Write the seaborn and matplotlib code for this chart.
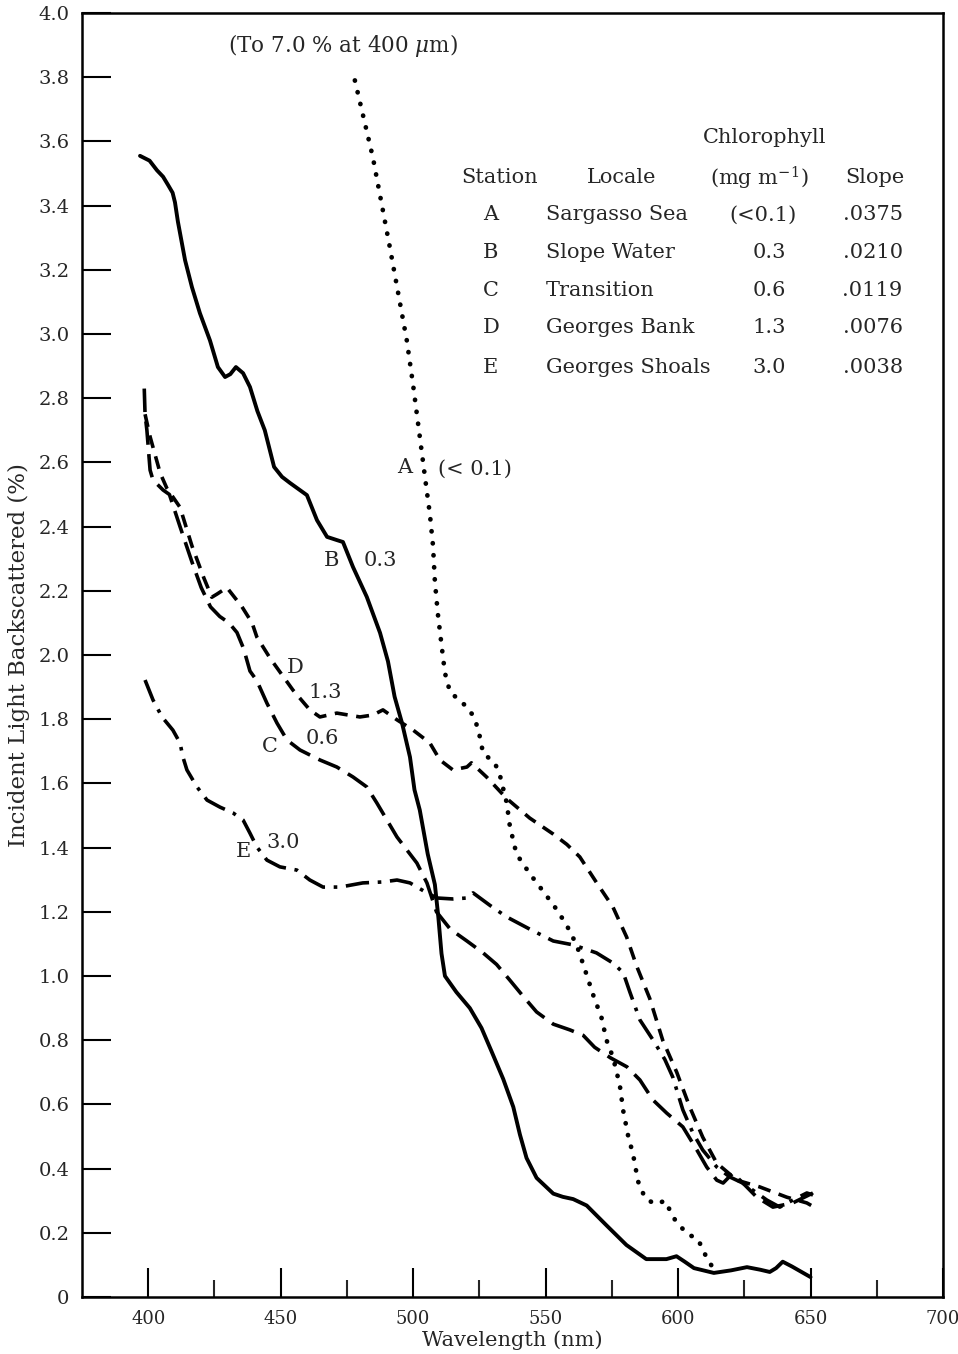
import matplotlib
matplotlib.use("Agg")
import matplotlib.pyplot as plt
import seaborn as sns
import pandas as pd

# Station A - Sargasso Sea (dotted)
wl_a = [478, 484.8, 491.2, 497.6, 500, 502.5, 505, 506.3, 507.5, 508.2, 509.3, 510.8, 512, 513.9,
        519.5, 522.7, 524.6, 526.4, 530.8, 532.7, 535.3, 536.5, 539, 544, 549.7, 554.1, 557.9,
        561.7, 564.2, 568, 571.1, 573, 575.5, 578, 579.3, 581.2, 583, 584.9, 587.5, 590.5, 592,
        595, 598.8, 603.2, 607.5, 610.7, 613.2]
bs_a = [3.79, 3.55, 3.27, 2.98, 2.84, 2.68, 2.52, 2.44, 2.34, 2.23, 2.13, 2.025, 1.944, 1.885,
        1.844, 1.811, 1.768, 1.694, 1.664, 1.627, 1.54, 1.467, 1.38, 1.319, 1.257, 1.208, 1.159,
        1.097, 1.036, 0.94, 0.87, 0.80, 0.745, 0.66, 0.58, 0.50, 0.445, 0.36, 0.309, 0.293, 0.29,
        0.30, 0.241, 0.198, 0.18, 0.124, 0.09]

# Station B - Slope Water (solid)
wl_b = [396.9, 400.5, 403.3, 405.6, 407.5, 409.2, 410.1, 411.2, 413.9, 416.5, 419.5, 423.3, 426.3,
        429, 431, 433.1, 435.8, 438.4, 441.2, 444, 447.5, 450.5, 453.5, 459.9, 463.7, 467.5, 471.2,
        473.5, 477.3, 482.5, 487.5, 490.5, 493, 495.8, 498.8, 500.5, 502.5, 505.5, 508.2, 509.5,
        510.7, 512, 516.3, 521.4, 525.8, 529.6, 534, 537.8, 540.3, 542.8, 546.6, 552.9, 556.5,
        560.4, 565.5, 573, 580.5, 588, 595.6, 599.4, 602.5, 606, 613.5, 620, 626, 631, 634.6, 637,
        639.5, 643, 650]
bs_b = [3.555, 3.54, 3.51, 3.49, 3.464, 3.44, 3.41, 3.35, 3.23, 3.146, 3.065, 2.98, 2.897,
        2.866, 2.875, 2.897, 2.878, 2.835, 2.76, 2.70, 2.586, 2.555, 2.536, 2.498, 2.42, 2.368,
        2.358, 2.352, 2.274, 2.181, 2.069, 1.98, 1.87, 1.788, 1.682, 1.58, 1.517, 1.38, 1.285,
        1.184, 1.07, 1.0, 0.95, 0.90, 0.838, 0.765, 0.679, 0.592, 0.506, 0.433, 0.371, 0.322,
        0.312, 0.305, 0.285, 0.223, 0.162, 0.118, 0.118, 0.127, 0.11, 0.09, 0.075, 0.083, 0.093,
        0.085, 0.078, 0.09, 0.11, 0.095, 0.062]

# Station C - Transition (long dashes)
wl_c = [398.5, 398.8, 399.5, 400.7, 401.8, 405.6, 408, 412, 416.5, 420, 423.5, 427, 430.5, 433.5,
        436, 438.4, 441, 444.8, 448.6, 452.4, 457.3, 464.8, 471.2, 477.3, 482.5, 486.3, 490.1,
        493.9, 497.6, 501.4, 505.2, 508.8, 514, 520.3, 526.4, 531.5, 536.5, 541.5, 546.6, 552.9,
        559.2, 564.2, 568.5, 574.5, 580.7, 585.6, 590.5, 595.7, 601.8, 607.1, 610.8, 614.6, 617,
        620.7, 625.9, 629.7, 635.8, 643.3, 650.9]
bs_c = [2.83, 2.75, 2.70, 2.576, 2.545, 2.514, 2.50, 2.40, 2.29, 2.21, 2.15, 2.12, 2.10, 2.07,
        2.02, 1.95, 1.92, 1.85, 1.788, 1.735, 1.704, 1.673, 1.651, 1.62, 1.589, 1.539, 1.486,
        1.433, 1.393, 1.352, 1.29, 1.20, 1.146, 1.109, 1.072, 1.036, 0.987, 0.937, 0.888, 0.85,
        0.832, 0.815, 0.778, 0.745, 0.717, 0.676, 0.614, 0.573, 0.53, 0.458, 0.405, 0.364, 0.355,
        0.386, 0.343, 0.311, 0.28, 0.293, 0.324]

# Station D - Georges Bank (short dashes)
wl_d = [398.8, 400.7, 404.5, 407, 412, 416.5, 421, 424, 426, 429.7, 433.5, 435.4, 439.2, 441,
        446, 448.6, 454.6, 461, 464.8, 471.2, 479.9, 484.8, 488.6, 493.9, 500, 506.3, 510.1, 515,
        520.3, 522, 527.7, 535.3, 544, 552.9, 558, 562.9, 569.3, 575.4, 580.6, 584.4, 589.3,
        594.2, 599.5, 604.4, 609.3, 614.6, 622.2, 630.8, 641, 648.6, 652]
bs_d = [2.75, 2.68, 2.567, 2.52, 2.46, 2.34, 2.24, 2.18, 2.19, 2.21, 2.17, 2.15, 2.10, 2.056,
        1.99, 1.96, 1.891, 1.829, 1.807, 1.819, 1.807, 1.813, 1.829, 1.798, 1.766, 1.726, 1.673,
        1.642, 1.651, 1.664, 1.62, 1.553, 1.492, 1.442, 1.41, 1.371, 1.29, 1.215, 1.121, 1.03,
        0.93, 0.80, 0.70, 0.592, 0.498, 0.417, 0.364, 0.343, 0.311, 0.293, 0.277]

# Station E - Georges Shoals (dash-dot)
wl_e = [398.8, 401.8, 405.2, 409.3, 412, 413.1, 414.6, 418.4, 422.2, 427.1, 432, 435.8, 438.4,
        441, 444.8, 449.7, 456.1, 461, 466, 472.4, 481, 488.6, 493.9, 498.8, 505.2, 509, 515,
        520.3, 522.6, 529, 535.3, 544, 552.9, 560.4, 569.2, 575.5, 579.3, 581.8, 585.6, 590.6,
        595, 598, 601.8, 605.6, 609.3, 614.6, 619.5, 624.4, 628.2, 633.5, 638.4, 643.3, 648.6,
        650.9]
bs_e = [1.922, 1.86, 1.807, 1.766, 1.726, 1.682, 1.642, 1.589, 1.548, 1.526, 1.508, 1.486, 1.445,
        1.402, 1.361, 1.34, 1.33, 1.299, 1.277, 1.277, 1.29, 1.293, 1.299, 1.29, 1.259, 1.243,
        1.24, 1.243, 1.259, 1.22, 1.184, 1.146, 1.109, 1.097, 1.072, 1.04, 1.01, 0.95, 0.863,
        0.80, 0.74, 0.685, 0.583, 0.511, 0.458, 0.405, 0.374, 0.355, 0.333, 0.302, 0.28, 0.302,
        0.324, 0.318]

# Table of stations
stations = ["A", "B", "C", "D", "E"]
locales = ["Sargasso Sea", "Slope Water", "Transition", "Georges Bank", "Georges Shoals"]
chlorophyll = ["(<0.1)", "0.3", "0.6", "1.3", "3.0"]
slopes = [".0375", ".0210", ".0119", ".0076", ".0038"]

# Curve labels: station letter and chlorophyll value
curve_letters = ["A", "B", "C", "D", "E"]
curve_values = ["(< 0.1)", "0.3", "0.6", "1.3", "3.0"]

x_ticks = [400, 450, 500, 550, 600, 650, 700]
x_minor = [425, 475, 525, 575, 625, 675]
y_ticks = [0, 0.2, 0.4, 0.6, 0.8, 1.0, 1.2, 1.4, 1.6, 1.8, 2.0, 2.2, 2.4, 2.6, 2.8,
           3.0, 3.2, 3.4, 3.6, 3.8, 4.0]
y_labels = ["0", "0.2", "0.4", "0.6", "0.8", "1.0", "1.2", "1.4", "1.6", "1.8", "2.0",
            "2.2", "2.4", "2.6", "2.8", "3.0", "3.2", "3.4", "3.6", "3.8", "4.0"]

sns.set_style("ticks")
plt.rcParams["font.family"] = ["DejaVu Serif"]
plt.rcParams["mathtext.fontset"] = "dejavuserif"

fig = plt.figure(figsize=(9.58, 13.54), dpi=100)
ax = fig.add_axes([82 / 958, 57 / 1354, 861 / 958, 1284 / 1354])

frames = {
    "A": pd.DataFrame({"wl": wl_a, "bs": bs_a}),
    "B": pd.DataFrame({"wl": wl_b, "bs": bs_b}),
    "C": pd.DataFrame({"wl": wl_c, "bs": bs_c}),
    "D": pd.DataFrame({"wl": wl_d, "bs": bs_d}),
    "E": pd.DataFrame({"wl": wl_e, "bs": bs_e}),
}
styles = {
    "A": dict(linestyle=(0, (0.05, 2.5)), linewidth=3.4, dash_capstyle="round"),
    "B": dict(linestyle="-", linewidth=2.8, solid_capstyle="round", solid_joinstyle="round"),
    "C": dict(linestyle=(0, (6.5, 2.6)), linewidth=2.6),
    "D": dict(linestyle=(0, (3.6, 2.4)), linewidth=2.6),
    "E": dict(linestyle=(0, (6.5, 2.4, 1.0, 2.4)), linewidth=2.6),
}
for key, df in frames.items():
    sns.lineplot(data=df, x="wl", y="bs", ax=ax, color="black", sort=False,
                 estimator=None, legend=False, **styles[key])

ax.set_xlim(375, 700)
ax.set_ylim(0, 4.0)
ax.set_xticks(x_ticks)
ax.set_xticks(x_minor, minor=True)
ax.set_yticks(y_ticks)
ax.set_yticklabels(y_labels)
ax.tick_params(axis="both", which="major", direction="in", length=21, width=1.5,
               color="black")
ax.tick_params(axis="x", which="major", pad=9, labelsize=13)
ax.tick_params(axis="y", which="major", pad=9, labelsize=14)
ax.tick_params(axis="x", which="minor", direction="in", length=12, width=1.5)
ax.tick_params(axis="y", which="minor", left=False)
for sp in ax.spines.values():
    sp.set_linewidth(1.8)
    sp.set_color("black")
    sp.set_visible(True)

ax.set_xlabel("Wavelength (nm)", fontsize=15, labelpad=2)
ax.set_ylabel("Incident Light Backscattered (%)", fontsize=16.5, labelpad=6)

fs = 15
ax.text(473.5, 3.90, "(To 7.0 % at 400 $\\mu$m)", fontsize=15.5, ha="center", va="center")

# Curve labels
letter_pos = [(496.9, 2.583), (469.0, 2.293), (446.0, 1.716), (455.4, 1.96), (436.1, 1.389)]
value_pos = [(523.5, 2.58), (487.5, 2.293), (465.6, 1.741), (466.7, 1.882), (450.8, 1.417)]
for lt, vt, lp, vp in zip(curve_letters, curve_values, letter_pos, value_pos):
    ax.text(lp[0], lp[1], lt, fontsize=fs, ha="center", va="center")
    ax.text(vp[0], vp[1], vt, fontsize=fs, ha="center", va="center")

# Station table
ax.text(632.7, 3.611, "Chlorophyll", fontsize=fs, ha="center", va="center")
ax.text(532.7, 3.486, "Station", fontsize=fs, ha="center", va="center")
ax.text(578.8, 3.486, "Locale", fontsize=fs, ha="center", va="center")
ax.text(630.5, 3.486, "(mg m$^{-1}$)", fontsize=fs, ha="center", va="center")
ax.text(674.2, 3.486, "Slope", fontsize=fs, ha="center", va="center")
row_y = [3.371, 3.255, 3.137, 3.019, 2.897]
for st, loc, chl, slp, yy in zip(stations, locales, chlorophyll, slopes, row_y):
    ax.text(529.3, yy, st, fontsize=fs, ha="center", va="center")
    ax.text(550.1, yy, loc, fontsize=fs, ha="left", va="center")
    ax.text(634.5 if chl != "(<0.1)" else 632.0, yy, chl, fontsize=fs, ha="center", va="center")
    ax.text(684.8, yy, slp, fontsize=fs, ha="right", va="center")

fig.savefig("out.png", dpi=100, facecolor="white")
